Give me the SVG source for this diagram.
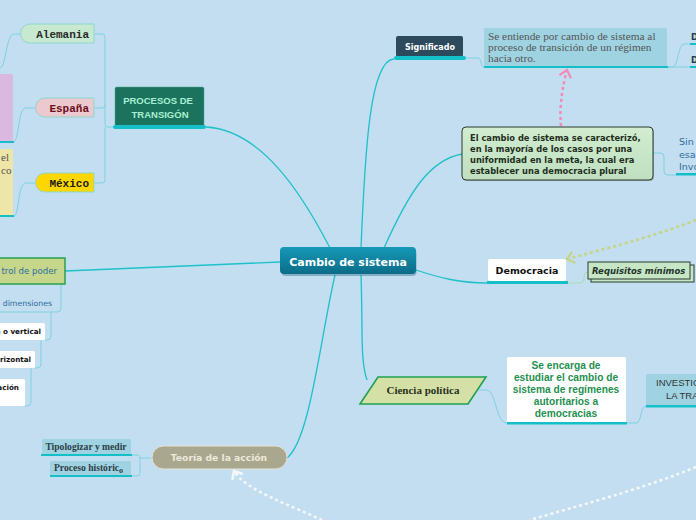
<svg xmlns="http://www.w3.org/2000/svg" width="696" height="520" viewBox="0 0 696 520">
<defs>
<linearGradient id="gC" x1="0" y1="0" x2="0" y2="1"><stop offset="0" stop-color="#1699b8"/><stop offset="1" stop-color="#0b6c88"/></linearGradient>
<linearGradient id="gG" x1="0" y1="0" x2="0" y2="1"><stop offset="0" stop-color="#d2ecd0"/><stop offset="1" stop-color="#bfe0c0"/></linearGradient>
<marker id="aPink" viewBox="-1 -1 12 14" refX="8" refY="6" markerWidth="12" markerHeight="14" orient="auto" markerUnits="userSpaceOnUse"><path d="M1,0 L8,6 L1,12" fill="none" stroke="#f08cb8" stroke-width="2.2"/></marker>
<marker id="aYel" viewBox="-1 -1 12 14" refX="8" refY="6" markerWidth="12" markerHeight="14" orient="auto" markerUnits="userSpaceOnUse"><path d="M1,0 L8,6 L1,12" fill="none" stroke="#c4d585" stroke-width="2.2"/></marker>
<marker id="aWht" viewBox="-1 -1 12 14" refX="8" refY="6" markerWidth="12" markerHeight="14" orient="auto" markerUnits="userSpaceOnUse"><path d="M1,0 L8,6 L1,12" fill="none" stroke="#f4f8fb" stroke-width="2.5"/></marker>
</defs>
<style>
.c{fill:none;stroke:#1ec1c9;stroke-width:1.3}
.b{fill:none;stroke:#7dd3df;stroke-width:1}
.bar{fill:#14bfc8}
.sans{font-family:"DejaVu Sans",Verdana,sans-serif}
.lib{font-family:"Liberation Sans",Arial,sans-serif}
.ser{font-family:"Liberation Serif","Times New Roman",serif}
.mono{font-family:"Liberation Mono","Courier New",monospace;font-weight:bold;font-size:11px}
</style>
<rect width="696" height="520" fill="#c3def0"/>

<g id="connectors">
<path class="c" d="M330,248 C300,190 260,130 206,127"/>
<path class="c" d="M361,248 C365,150 370,60 394,59"/>
<path class="c" d="M384,248 C410,190 430,160 462,154"/>
<path class="c" d="M416,270 C440,278 460,283 487,283"/>
<path class="c" d="M280,262 L65,271"/>
<path class="c" d="M361,275 C363,330 360,360 367,380"/>
<path class="c" d="M335,275 C320,340 310,440 287,458"/>
<path class="b" d="M113,127 L108,127 Q105,127 105,124 L105,37 Q105,34 102,34 L94,34 M105,105 Q105,108 102,108 L94,108 M105,127 L105,180 Q105,183 102,183 L94,183"/>
<path class="b" d="M20,34 L14,34 C6,34 6,68 0,68"/>
<path class="b" d="M35,108 L26,108 C17,108 20,142 13,142"/>
<path class="b" d="M35,183 L26,183 C17,183 20,217 13,217"/>
<path class="b" d="M466,58 L478,58 C482,58 480,67 484,67"/>
<path class="b" d="M668,67 L673,67 C678,67 678,44 684,44 L690,44"/>
<path class="b" d="M668,67 L690,67"/>
<path class="b" d="M653,153 L660,153 Q664,153 664,157 L664,171 Q664,175 668,175 L676,175"/>
<path fill="none" stroke="#a8dcb0" stroke-width="1" d="M568,283 L580,283 Q584,283 584,279 L584,276 Q584,272 588,272"/>
<path class="b" d="M65,284 L61,284 L61,308 Q61,312 57,312 L0,312 M51,312 L51,336 Q51,340 47,340 L45,340 M41,340 L41,364 Q41,368 37,368 L35,368 M31,368 L31,402 Q31,406 27,406 L25,406"/>
<path class="b" d="M479,390 L486,390 C497,390 495,423 507,423"/>
<path class="b" d="M626,423 L636,423 C642,423 640,406 646,406"/>
<path class="b" d="M152,458 L140,458 Q140,455 137,455 L131,455 M140,458 L140,473 Q140,476 137,476 L131,476"/>
<path fill="none" stroke="#f08cb8" stroke-width="2.5" stroke-dasharray="3,3" d="M561,126 C559,105 563,85 567,70" marker-end="url(#aPink)"/>
<path fill="none" stroke="#c4d585" stroke-width="2.6" stroke-dasharray="3,3" d="M696,220 C650,238 600,250 567,259" marker-end="url(#aYel)"/>
<path fill="none" stroke="#f4f8fb" stroke-width="2.5" stroke-dasharray="3,3" d="M322,520 C290,505 245,490 234,471" marker-end="url(#aWht)"/>
<path fill="none" stroke="#f4f8fb" stroke-width="2.5" stroke-dasharray="3,3" d="M696,467 C640,490 580,505 530,520"/>
</g>

<g id="n-purple"><rect x="-4" y="74" width="17" height="68" rx="2" fill="#dbb8e0"/><rect x="0" y="141" width="14" height="2" class="bar"/></g>
<g id="n-yellow"><rect x="-4" y="149" width="17" height="67" rx="2" fill="#ede6a8"/><rect x="0" y="215" width="14" height="2" class="bar"/>
<text class="ser" font-size="11" fill="#555" x="1" y="161">el</text><text class="ser" font-size="11" fill="#555" x="1" y="174">co</text></g>

<g id="n-alemania"><path d="M30,24 L94,24 L94,43 L30,43 A9.5,9.5 0 0 1 30,24 Z" fill="#c6e9d0" stroke="#8ed6cb" stroke-width="1"/><text class="mono" x="89" y="38" text-anchor="end" fill="#2a2a2a">Alemania</text></g>
<g id="n-espana"><path d="M45,98 L94,98 L94,117 L45,117 A9.5,9.5 0 0 1 45,98 Z" fill="#ebc9ce" stroke="#8ed6cb" stroke-width="1"/><text class="mono" x="89" y="112" text-anchor="end" fill="#6b0f1a">España</text></g>
<g id="n-mexico"><path d="M45,173 L94,173 L94,192 L45,192 A9.5,9.5 0 0 1 45,173 Z" fill="#fed700" stroke="#8ed6cb" stroke-width="1"/><text class="mono" x="89" y="187" text-anchor="end" fill="#1a1a1a">México</text></g>

<g id="n-procesos"><rect x="115" y="87" width="89" height="40" rx="1.5" fill="#1b735d" stroke="#4fa890" stroke-width="0.5"/><rect x="113" y="125" width="93" height="4" rx="2" class="bar"/>
<text class="lib" font-size="9.5" font-weight="bold" fill="#a9f0d2" text-anchor="middle" x="158" y="104">PROCESOS DE</text>
<text class="lib" font-size="9.5" font-weight="bold" fill="#a9f0d2" text-anchor="middle" x="160" y="118">TRANSIGÓN</text></g>

<g id="n-central"><rect x="281" y="248" width="135" height="27" rx="4" fill="#0a5a70" opacity="0.35" transform="translate(0.5,1)"/><rect x="280" y="247" width="136" height="27" rx="4" fill="url(#gC)"/>
<text class="sans" font-size="11" font-weight="bold" fill="#fff" text-anchor="middle" x="348" y="266">Cambio de sistema</text></g>

<g id="n-significado"><rect x="396" y="36" width="67" height="21" rx="2" fill="#2c4a5c"/><rect x="394" y="56" width="72" height="4" rx="2" class="bar"/>
<text class="sans" font-size="8" font-weight="bold" fill="#fff" text-anchor="middle" x="430" y="50">Significado</text></g>

<g id="n-definicion"><rect x="484" y="28" width="183" height="39" rx="1.5" fill="#9fd3e2"/><rect x="484" y="66" width="184" height="2" class="bar"/>
<text class="ser" font-size="11.3" fill="#555"><tspan x="488" y="40">Se entiende por cambio de sistema al</tspan><tspan x="488" y="51">proceso de transición de un régimen</tspan><tspan x="488" y="62">hacia otro.</tspan></text></g>

<g id="n-d1"><text class="sans" font-size="8.5" font-weight="bold" fill="#1f3a4a" x="691" y="40">D</text><rect x="690" y="43" width="6" height="2" class="bar"/></g>
<g id="n-d2"><text class="sans" font-size="8.5" font-weight="bold" fill="#1f3a4a" x="691" y="63">D</text><rect x="690" y="66" width="6" height="2" class="bar"/></g>

<g id="n-elcambio"><rect x="463" y="128" width="191" height="53" rx="4" fill="#3a4a3a" opacity="0.3"/><rect x="462" y="127" width="191" height="53" rx="4" fill="url(#gG)" stroke="#2b3a2c" stroke-width="1"/>
<text class="sans" font-size="8.3" font-weight="bold" fill="#1e2e20"><tspan x="470" y="141">El cambio de sistema se caracterizó,</tspan><tspan x="470" y="152">en la mayoría de los casos por una</tspan><tspan x="470" y="163">uniformidad en la meta, la cual era</tspan><tspan x="470" y="174">establecer una democracia plural</tspan></text></g>

<g id="n-sin"><text class="sans" font-size="9.5" fill="#2e6ea0"><tspan x="679" y="145">Sin</tspan><tspan x="679" y="158">esa</tspan><tspan x="679" y="170">Invo</tspan></text><rect x="676" y="173" width="20" height="2.5" class="bar"/></g>

<g id="n-democracia"><rect x="488" y="259" width="78" height="22" rx="2" fill="#fff"/><rect x="487" y="281" width="81" height="3" class="bar"/>
<text class="sans" font-size="9.5" font-weight="bold" fill="#111" text-anchor="middle" x="527" y="274">Democracia</text></g>

<g id="n-requisitos"><rect x="591" y="265" width="103" height="17" fill="#c6e6c6" stroke="#2b3a2c" stroke-width="1"/><rect x="588" y="262" width="102" height="17" fill="#c6e6c6" stroke="#2b3a2c" stroke-width="1"/>
<text class="sans" font-size="8.5" font-weight="bold" font-style="italic" fill="#23332a" x="592" y="274">Requisitos mínimos</text></g>

<g id="n-control"><rect x="-4" y="258" width="69" height="26" fill="#c6d68a" stroke="#2aa050" stroke-width="1.5"/>
<text class="sans" font-size="8.6" fill="#2e6ea0" text-anchor="end" x="57" y="274">trol de poder</text></g>
<g id="n-dimensiones"><text class="sans" font-size="7.8" fill="#2e6ea0" text-anchor="end" x="52" y="306">dimensiones</text></g>
<g id="n-vertical"><rect x="-3" y="323" width="48" height="17" rx="1.5" fill="#fff"/><text class="sans" font-size="7.2" font-weight="bold" fill="#111" text-anchor="end" x="41" y="334">a o vertical</text></g>
<g id="n-horizontal"><rect x="-3" y="351" width="38" height="17" rx="1.5" fill="#fff"/><text class="sans" font-size="7.2" font-weight="bold" fill="#111" text-anchor="end" x="31" y="362">rizontal</text></g>
<g id="n-acion"><rect x="-3" y="379" width="28" height="27" rx="1.5" fill="#fff"/><text class="sans" font-size="7.2" font-weight="bold" fill="#111" text-anchor="end" x="19" y="390">ación</text></g>

<g id="n-ciencia"><path d="M378,377 L486,377 L468,404 L360,404 Z" fill="#d5e0a7" stroke="#1fa050" stroke-width="1.6"/>
<text class="ser" font-size="11" font-weight="bold" fill="#2a3020" text-anchor="middle" x="423" y="394">Ciencia política</text></g>

<g id="n-encarga"><rect x="507" y="357" width="119" height="66" rx="1.5" fill="#fff"/><rect x="507" y="422" width="120" height="2.5" class="bar"/>
<text class="lib" font-size="10.2" font-weight="bold" fill="#1f9050" text-anchor="middle"><tspan x="566" y="369">Se encarga de</tspan><tspan x="566" y="381">estudiar el cambio de</tspan><tspan x="566" y="393">sistema de regímenes</tspan><tspan x="566" y="405">autoritarios a</tspan><tspan x="566" y="417">democracias</tspan></text></g>

<g id="n-investig"><rect x="646" y="374" width="52" height="32" rx="1.5" fill="#9fd3e2"/><rect x="646" y="405" width="50" height="2.5" class="bar"/>
<text class="lib" font-size="9.5" fill="#333"><tspan x="656" y="386">INVESTIG</tspan><tspan x="666" y="399">LA TRA</tspan></text></g>

<g id="n-teoria"><rect x="152" y="446" width="135" height="23" rx="11.5" fill="#aaa78f" stroke="#e6e2d4" stroke-width="1"/>
<text class="sans" font-size="9.2" font-weight="bold" fill="#ede9dc" text-anchor="middle" x="219" y="461">Teoría de la acción</text></g>

<g id="n-tipologizar"><rect x="42" y="439" width="89" height="16" rx="1.5" fill="#9fd3e2"/><rect x="41" y="454" width="91" height="2" class="bar"/>
<text class="ser" font-size="9.6" font-weight="bold" fill="#2e3e48" text-anchor="middle" x="86" y="450">Tipologizar y medir</text></g>
<g id="n-proceso"><rect x="50" y="461" width="81" height="15" rx="1.5" fill="#9fd3e2"/><rect x="50" y="475" width="82" height="2" class="bar"/>
<text class="ser" font-size="9.6" font-weight="bold" fill="#2e3e48" x="54" y="471">Proceso históric<tspan font-size="8" dy="2">o</tspan></text></g>
</svg>
